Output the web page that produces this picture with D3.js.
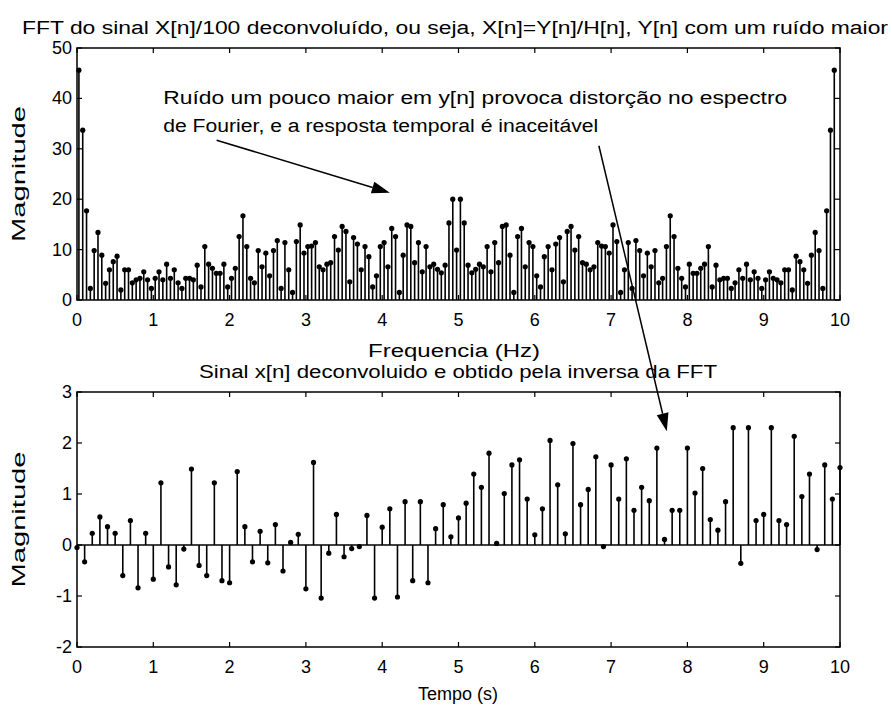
<!DOCTYPE html>
<html>
<head>
<meta charset="utf-8">
<script src="https://cdn.jsdelivr.net/npm/d3@7"></script>
<style>
  body { margin: 0; background: #fff; }
  svg text { font-family: "Liberation Sans", Arial, sans-serif; fill: #000; }
</style>
</head>
<body>
<svg id="chart" width="892" height="707"></svg>
<script>
// |X(f)| left half (spectrum is mirrored around the centre bin)
var fftLeft = [45.6, 33.7, 17.7, 2.3, 9.8, 13.4, 8.9, 3.3, 6.0, 7.6,
  8.7, 2.0, 6.0, 6.0, 3.4, 4.0, 4.3, 5.6, 4.0, 2.3,
  4.3, 5.6, 4.0, 7.1, 4.3, 6.0, 3.4, 2.3, 4.3, 4.3,
  4.0, 6.9, 2.6, 10.6, 7.1, 6.3, 5.3, 5.3, 7.1, 2.6,
  4.3, 6.3, 12.6, 16.7, 10.6, 4.3, 3.4, 9.8, 6.6, 9.3,
  4.8, 9.8, 11.8, 2.3, 11.4, 6.0, 1.5, 11.6, 14.9, 9.3,
  10.6, 10.7, 11.4, 6.6, 6.0, 7.1, 7.4, 12.6, 9.9, 14.6,
  13.6, 3.6, 12.4, 11.1, 6.0, 10.6, 8.6, 2.6, 4.8, 10.6,
  11.4, 6.6, 14.2, 12.6, 1.5, 8.9, 14.9, 14.6, 7.4, 11.4,
  5.6, 10.6, 6.6, 7.1, 6.1, 5.4, 6.9, 15.3, 20.0];
var fftCentre = 9.9;
var fftRight = [20.0, 15.3, 6.9, 5.4, 6.1, 7.1, 6.6, 10.6, 5.6,
  11.4, 7.4, 14.6, 14.9, 8.9, 1.5, 12.6, 14.2, 6.6, 11.4,
  10.6, 4.8, 2.6, 8.6, 10.6, 6.0, 11.1, 12.4, 3.6, 13.6,
  14.6, 9.9, 12.6, 7.4, 7.1, 6.0, 6.6, 11.4, 10.7, 10.6,
  9.3, 14.9, 11.6, 1.5, 6.0, 11.4, 2.3, 11.8, 9.8, 4.8,
  9.3, 6.6, 9.8, 3.4, 4.3, 10.6, 16.7, 12.6, 6.3, 4.3,
  2.6, 7.1, 5.3, 5.3, 6.3, 7.1, 10.6, 2.6, 6.9, 4.0,
  4.3, 4.3, 2.3, 3.4, 6.0, 4.3, 7.1, 4.0, 5.6, 4.3,
  2.3, 4.0, 5.6, 4.3, 4.0, 3.4, 6.0, 6.0, 2.0, 8.7,
  7.6, 6.0, 3.3, 8.9, 13.4, 9.8, 2.3, 17.7, 33.7, 45.6];
var fftMag = fftLeft.concat([fftCentre], fftRight);
var freqStep = 0.05, freqStart = 0.025;

// x[n] obtained by inverse FFT, one sample every 0.1 s
var signal = [-0.05, -0.33, 0.23, 0.55, 0.36, 0.23, -0.6, 0.48, -0.84, 0.23,
  -0.67, 1.22, -0.43, -0.78, -0.08, 1.49, -0.4, -0.6, 1.22, -0.7,
  -0.74, 1.44, 0.36, -0.33, 0.27, -0.35, 0.40, -0.51, 0.05, 0.21,
  -0.86, 1.62, -1.04, -0.16, 0.6, -0.23, -0.07, -0.03, 0.58, -1.04,
  0.35, 0.71, -1.02, 0.85, -0.70, 0.85, -0.74, 0.32, 0.79, 0.16,
  0.53, 0.82, 1.39, 1.13, 1.80, 0.03, 1.01, 1.57, 1.67, 0.9,
  0.2, 0.71, 2.05, 1.18, 0.22, 1.99, 0.79, 1.09, 1.73, -0.03,
  1.57, 0.9, 1.69, 0.68, 1.13, 0.87, 1.9, 0.11, 0.68, 0.68,
  1.9, 1.02, 1.5, 0.5, 0.29, 0.85, 2.3, -0.36, 2.3, 0.48,
  0.6, 2.3, 0.48, 0.40, 2.13, 0.95, 1.39, -0.09, 1.57, 0.9, 1.52];
var timeStep = 0.1;

var xTicks = [0, 1, 2, 3, 4, 5, 6, 7, 8, 9, 10];
var topYTicks = [0, 10, 20, 30, 40, 50];
var botYTicks = [-2, -1, 0, 1, 2, 3];

var titleTop = "FFT do sinal X[n]/100 deconvoluído, ou seja, X[n]=Y[n]/H[n], Y[n] com um ruído maior";
var titleBot = "Sinal x[n] deconvoluido e obtido pela inversa da FFT";
var noteLines = ["Ruído um pouco maior em y[n] provoca distorção no espectro",
                 "de Fourier, e a resposta temporal é inaceitável"];

var svg = d3.select("#chart");
var left = 77, right = 840;
var fontSize = 18;

var x = d3.scaleLinear().domain([0, 10]).range([left, right]);
var yTop = d3.scaleLinear().domain([0, 50]).range([300, 48]);
var yBot = d3.scaleLinear().domain([-2, 3]).range([647, 392]);

// text stretched to the width it takes in the original figure
function label(px, py, s, len, anchor) {
    var t = svg.append("text").attr("x", px).attr("y", py)
        .attr("text-anchor", anchor || "middle").attr("font-size", fontSize).text(s);
    if (len) t.attr("textLength", len).attr("lengthAdjust", "spacingAndGlyphs");
    return t;
}

function drawFrame(y, yTicks) {
    var g = svg.append("g");
    var y0 = y.range()[0], y1 = y.range()[1];
    var tl = 5;
    xTicks.forEach(function (t) {
        g.append("line").attr("x1", x(t)).attr("x2", x(t)).attr("y1", y0).attr("y2", y0 - tl)
            .attr("stroke", "#000").attr("stroke-width", 1.2);
        g.append("line").attr("x1", x(t)).attr("x2", x(t)).attr("y1", y1).attr("y2", y1 + tl)
            .attr("stroke", "#000").attr("stroke-width", 1.2);
        g.append("text").attr("x", x(t)).attr("y", y0 + 26).attr("text-anchor", "middle")
            .attr("font-size", fontSize).text(t);
    });
    yTicks.forEach(function (t) {
        g.append("line").attr("x1", left).attr("x2", left + tl).attr("y1", y(t)).attr("y2", y(t))
            .attr("stroke", "#000").attr("stroke-width", 1.2);
        g.append("line").attr("x1", right).attr("x2", right - tl).attr("y1", y(t)).attr("y2", y(t))
            .attr("stroke", "#000").attr("stroke-width", 1.2);
        g.append("text").attr("x", left - 5).attr("y", y(t) + 6).attr("text-anchor", "end")
            .attr("font-size", fontSize).text(t);
    });
    g.append("rect").attr("x", left).attr("y", y1).attr("width", right - left).attr("height", y0 - y1)
        .attr("fill", "none").attr("stroke", "#000").attr("stroke-width", 1.5);
    label(0, 0, "Magnitude", 136)
        .attr("transform", "translate(25," + ((y0 + y1) / 2) + ") rotate(-90)");
}

function drawStems(data, xOf, y) {
    var g = svg.append("g");
    g.selectAll("line").data(data).enter().append("line")
        .attr("x1", function (d, i) { return x(xOf(i)); })
        .attr("x2", function (d, i) { return x(xOf(i)); })
        .attr("y1", y(0))
        .attr("y2", function (d) { return y(d); })
        .attr("stroke", "#000").attr("stroke-width", 1.6);
    g.selectAll("circle").data(data).enter().append("circle")
        .attr("cx", function (d, i) { return x(xOf(i)); })
        .attr("cy", function (d) { return y(d); })
        .attr("r", 2.6).attr("fill", "#000");
}

function arrow(x1, y1, x2, y2) {
    var ang = Math.atan2(y2 - y1, x2 - x1), len = 18, w = 6;
    var bx = x2 - len * Math.cos(ang), by = y2 - len * Math.sin(ang);
    svg.append("line").attr("x1", x1).attr("y1", y1).attr("x2", bx).attr("y2", by)
        .attr("stroke", "#000").attr("stroke-width", 1.5);
    svg.append("path")
        .attr("d", "M" + x2 + "," + y2 +
            "L" + (bx + w * Math.sin(ang)) + "," + (by - w * Math.cos(ang)) +
            "L" + (bx - w * Math.sin(ang)) + "," + (by + w * Math.cos(ang)) + "Z")
        .attr("fill", "#000");
}

// top: spectrum
drawFrame(yTop, topYTicks);
drawStems(fftMag, function (i) { return freqStart + i * freqStep; }, yTop);
label(455, 34, titleTop, 866);
label(454, 357, "Frequencia (Hz)", 172);

// bottom: time signal
drawFrame(yBot, botYTicks);
svg.append("line").attr("x1", x(0)).attr("x2", x(10)).attr("y1", yBot(0)).attr("y2", yBot(0))
    .attr("stroke", "#000").attr("stroke-width", 1.5);
drawStems(signal, function (i) { return i * timeStep; }, yBot);
label(458, 378, titleBot, 518);
label(458, 700, "Tempo (s)");

// annotation
label(x(1.13), yTop(38.8), noteLines[0], 624, "start");
label(x(1.13), yTop(38.8) + 28, noteLines[1], 435, "start");
arrow(x(1.83), yTop(31.7), x(4.1), yTop(21.3));
arrow(x(6.84), yTop(30.6), x(7.73), yBot(2.23));
</script>
</body>
</html>
